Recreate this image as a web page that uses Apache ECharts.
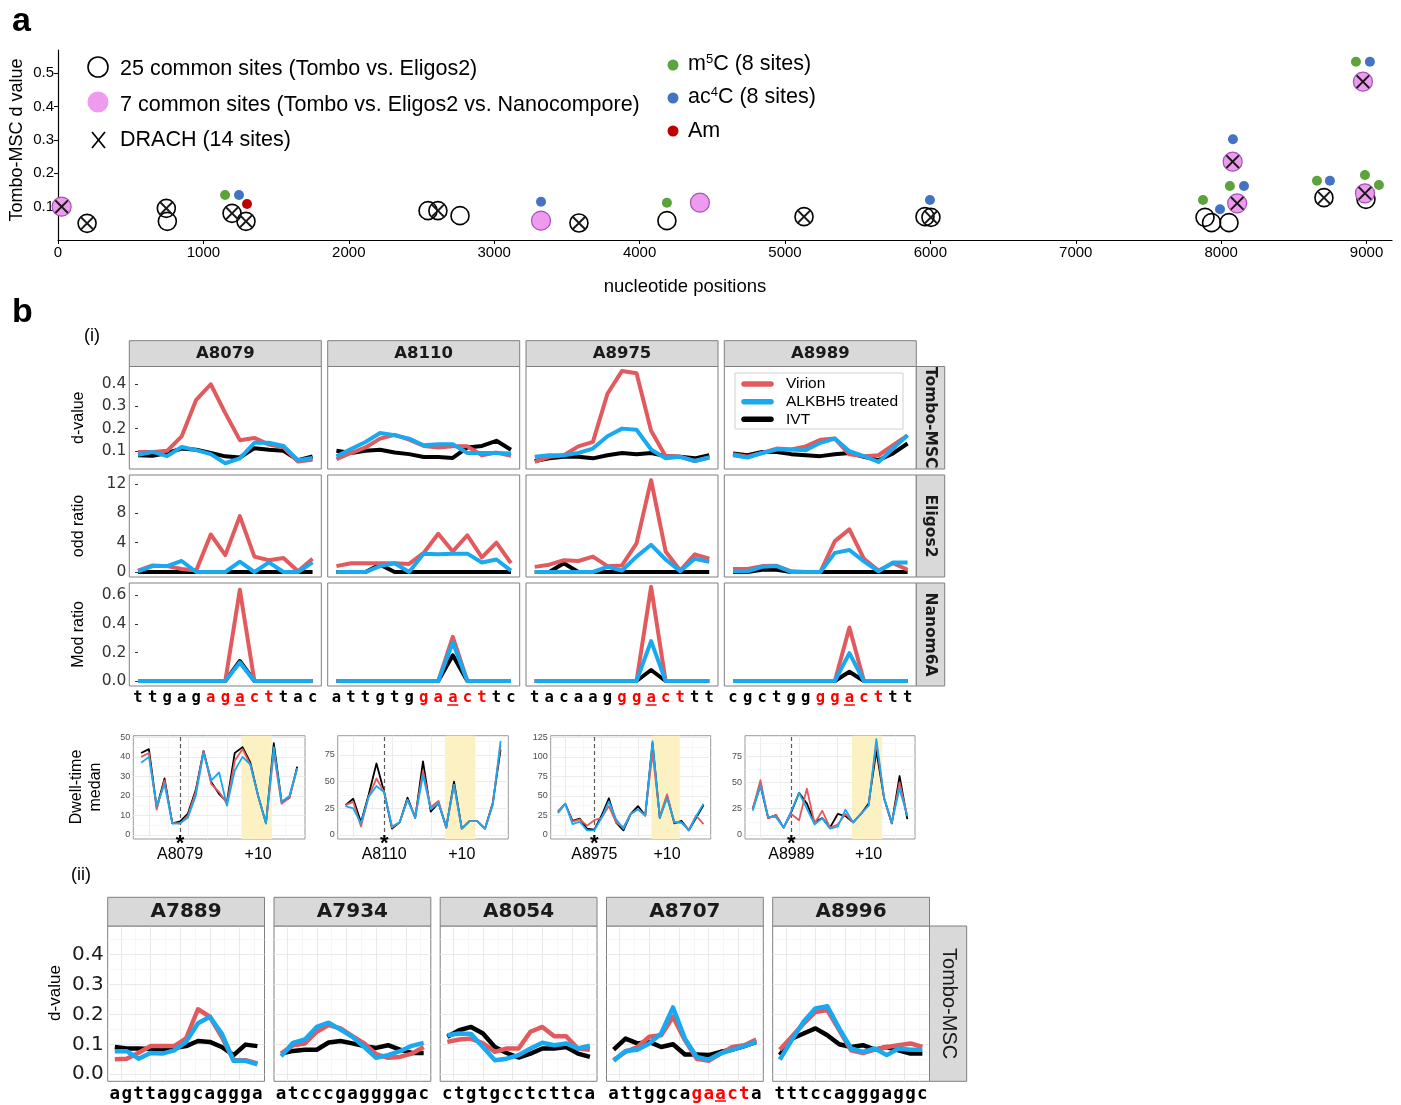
<!DOCTYPE html>
<html>
<head>
<meta charset="utf-8">
<script src="https://cdn.jsdelivr.net/npm/echarts@6.0.0/dist/echarts.min.js"></script>
<style>html,body{margin:0;padding:0;background:#fff;}#chart{width:1401px;height:1105px;}</style>
</head>
<body>
<div id="chart"></div>
<script>
// ================= DATA: panel a =================
const aXTicks = [0, 1000, 2000, 3000, 4000, 5000, 6000, 7000, 8000, 9000];
const aYTicks = [0.1, 0.2, 0.3, 0.4, 0.5];
const commonPos = [200, 745, 752, 1197, 1293, 2545, 2613, 2765, 3583, 4188, 5131, 5963, 6004, 7889, 7934, 8054, 8707, 8996];
const commonVal = [0.050, 0.095, 0.056, 0.080, 0.056, 0.088, 0.088, 0.073, 0.051, 0.058, 0.070, 0.070, 0.068, 0.068, 0.052, 0.052, 0.127, 0.122];
const pinkPos = [25, 3322, 4415, 8079, 8110, 8975, 8989];
const pinkVal = [0.100, 0.058, 0.112, 0.235, 0.110, 0.475, 0.140];
const drachPos = [25, 200, 745, 1197, 1293, 2613, 3583, 5131, 6004, 8079, 8110, 8707, 8975, 8989];
const drachVal = [0.100, 0.050, 0.095, 0.080, 0.056, 0.088, 0.051, 0.070, 0.068, 0.235, 0.110, 0.127, 0.475, 0.140];
const m5CPos = [1149, 4188, 7875, 8060, 8659, 8927, 8989, 9085];
const m5CVal = [0.135, 0.112, 0.120, 0.162, 0.178, 0.535, 0.195, 0.165];
const ac4CPos = [1245, 3322, 5997, 7992, 8081, 8157, 8748, 9023];
const ac4CVal = [0.135, 0.115, 0.120, 0.092, 0.302, 0.162, 0.178, 0.535];
const amPos = [1300];
const amVal = [0.108];

// ================= DATA: panel b(i) =================
const seqIdx = [0, 1, 2, 3, 4, 5, 6, 7, 8, 9, 10, 11, 12];
const b1Sites = ['A8079', 'A8110', 'A8975', 'A8989'];
const b1Seqs = ['ttgagagacttac', 'attgtggaacttc', 'tacaagggacttt', 'cgctggggacttt'];
const b1RedStart = [5, 6, 6, 6];
const b1RedEnd = [9, 10, 10, 10];
const b1ModIdx = [7, 8, 8, 8];
const b1RowNames = ['Tombo-MSC', 'Eligos2', 'Nanom6A'];
const b1RowTitles = ['d-value', 'odd ratio', 'Mod ratio'];
const b1TicksTombo = [0.1, 0.2, 0.3, 0.4];
const b1TicksEligos = [0, 4, 8, 12];
const b1TicksNano = [0.0, 0.2, 0.4, 0.6];

const tomboA8079Virion = [0.095, 0.095, 0.100, 0.165, 0.330, 0.400, 0.270, 0.148, 0.158, 0.128, 0.116, 0.052, 0.060];
const tomboA8079Alkbh5 = [0.082, 0.095, 0.076, 0.117, 0.103, 0.085, 0.044, 0.066, 0.136, 0.136, 0.122, 0.057, 0.068];
const tomboA8079Ivt    = [0.080, 0.078, 0.090, 0.110, 0.105, 0.090, 0.075, 0.070, 0.112, 0.105, 0.100, 0.058, 0.075];
const tomboA8110Virion = [0.062, 0.090, 0.115, 0.155, 0.172, 0.150, 0.122, 0.115, 0.120, 0.120, 0.080, 0.092, 0.078];
const tomboA8110Alkbh5 = [0.075, 0.108, 0.140, 0.180, 0.170, 0.155, 0.125, 0.130, 0.130, 0.090, 0.090, 0.090, 0.088];
const tomboA8110Ivt    = [0.100, 0.090, 0.100, 0.105, 0.092, 0.085, 0.072, 0.072, 0.068, 0.115, 0.122, 0.145, 0.105];
const tomboA8975Virion = [0.050, 0.073, 0.080, 0.120, 0.140, 0.357, 0.460, 0.450, 0.190, 0.076, 0.073, 0.054, 0.070];
const tomboA8975Alkbh5 = [0.073, 0.080, 0.080, 0.090, 0.110, 0.166, 0.200, 0.195, 0.106, 0.066, 0.073, 0.054, 0.070];
const tomboA8975Ivt    = [0.054, 0.066, 0.073, 0.073, 0.066, 0.080, 0.090, 0.085, 0.090, 0.076, 0.073, 0.066, 0.080];
const tomboA8989Virion = [0.085, 0.073, 0.090, 0.110, 0.106, 0.120, 0.150, 0.155, 0.084, 0.076, 0.080, 0.125, 0.170];
const tomboA8989Alkbh5 = [0.080, 0.070, 0.090, 0.106, 0.106, 0.103, 0.136, 0.155, 0.098, 0.076, 0.050, 0.110, 0.170];
const tomboA8989Ivt    = [0.088, 0.080, 0.095, 0.095, 0.085, 0.080, 0.076, 0.084, 0.090, 0.073, 0.058, 0.088, 0.133];

const eligosA8079Virion = [0.2, 0.9, 0.8, 0.4, 0.2, 5.1, 2.3, 7.6, 2.1, 1.6, 1.9, 0.1, 1.8];
const eligosA8079Alkbh5 = [0.1, 0.8, 0.8, 1.5, 0.0, 0.0, 0.0, 1.4, 0.0, 1.3, 0.0, 0.0, 1.3];
const eligosA8079Ivt    = [0.0, 0.0, 0.0, 0.0, 0.0, 0.0, 0.0, 0.0, 0.0, 0.0, 0.0, 0.0, 0.0];
const eligosA8110Virion = [0.8, 1.2, 1.2, 1.2, 1.2, 1.1, 2.6, 5.2, 2.8, 5.0, 2.0, 4.0, 1.2];
const eligosA8110Alkbh5 = [0.0, 0.0, 0.0, 0.8, 1.2, 0.0, 2.5, 2.4, 2.5, 2.5, 1.3, 1.7, 0.2];
const eligosA8110Ivt    = [0.0, 0.0, 0.0, 1.0, 0.0, 0.0, 0.0, 0.0, 0.0, 0.0, 0.0, 0.0, 0.0];
const eligosA8975Virion = [0.7, 1.0, 1.6, 1.5, 2.1, 0.8, 0.9, 3.9, 12.5, 2.8, 0.2, 2.4, 1.8];
const eligosA8975Alkbh5 = [0.0, 0.0, 0.0, 0.0, 0.0, 0.7, 0.2, 2.1, 3.7, 1.7, 0.1, 1.8, 1.4];
const eligosA8975Ivt    = [0.0, 0.0, 1.2, 0.0, 0.0, 0.0, 0.0, 0.0, 0.0, 0.0, 0.0, 0.0, 0.0];
const eligosA8989Virion = [0.4, 0.4, 0.8, 0.85, 0.1, 0.0, 0.0, 4.2, 5.8, 1.8, 0.2, 1.2, 0.3];
const eligosA8989Alkbh5 = [0.1, 0.1, 0.7, 0.8, 0.0, 0.0, 0.0, 2.6, 3.0, 1.45, 0.1, 1.3, 1.3];
const eligosA8989Ivt    = [0.0, 0.0, 0.3, 0.3, 0.0, 0.0, 0.0, 0.0, 0.0, 0.0, 0.0, 0.0, 0.0];

const nanoA8079Virion = [0, 0, 0, 0, 0, 0, 0, 0.64, 0, 0, 0, 0, 0];
const nanoA8079Alkbh5 = [0, 0, 0, 0, 0, 0, 0, 0.13, 0, 0, 0, 0, 0];
const nanoA8079Ivt    = [0, 0, 0, 0, 0, 0, 0, 0.14, 0, 0, 0, 0, 0];
const nanoA8110Virion = [0, 0, 0, 0, 0, 0, 0, 0, 0.31, 0, 0, 0, 0];
const nanoA8110Alkbh5 = [0, 0, 0, 0, 0, 0, 0, 0, 0.27, 0, 0, 0, 0];
const nanoA8110Ivt    = [0, 0, 0, 0, 0, 0, 0, 0, 0.18, 0, 0, 0, 0];
const nanoA8975Virion = [0, 0, 0, 0, 0, 0, 0, 0, 0.66, 0, 0, 0, 0];
const nanoA8975Alkbh5 = [0, 0, 0, 0, 0, 0, 0, 0, 0.28, 0, 0, 0, 0];
const nanoA8975Ivt    = [0, 0, 0, 0, 0, 0, 0, 0, 0.077, 0, 0, 0, 0];
const nanoA8989Virion = [0, 0, 0, 0, 0, 0, 0, 0, 0.375, 0, 0, 0, 0];
const nanoA8989Alkbh5 = [0, 0, 0, 0, 0, 0, 0, 0, 0.195, 0, 0, 0, 0];
const nanoA8989Ivt    = [0, 0, 0, 0, 0, 0, 0, 0, 0.065, 0, 0, 0, 0];

// ================= DATA: dwell-time =================
const dwIdx = [0, 1, 2, 3, 4, 5, 6, 7, 8, 9, 10, 11, 12, 13, 14, 15, 16, 17, 18, 19, 20];
const dwTicks8079 = [0, 10, 20, 30, 40, 50];
const dwTicks8110 = [0, 25, 50, 75];
const dwTicks8975 = [0, 25, 50, 75, 100, 125];
const dwTicks8989 = [0, 25, 50, 75];
const dwA8079Ivt    = [42, 44, 14, 29, 6, 7, 11, 23, 43, 27, 21, 17, 42, 45, 37, 20, 6, 47, 17, 19, 35];
const dwA8079Virion = [40, 42, 13, 28, 6, 6, 10, 22, 43, 26, 22, 16, 38, 44, 36, 20, 6, 42, 16, 19, 34];
const dwA8079Alkbh5 = [37, 40, 15, 26, 6, 6, 9, 20, 42, 28, 32, 15, 33, 40, 36, 20, 6, 45, 17, 20, 34];
const dwA8110Ivt    = [28, 34, 12, 38, 67, 40, 6, 12, 35, 16, 69, 22, 30, 7, 50, 6, 13, 13, 6, 30, 80];
const dwA8110Virion = [28, 31, 8, 36, 53, 40, 7, 12, 33, 18, 60, 26, 32, 7, 47, 6, 13, 13, 6, 30, 84];
const dwA8110Alkbh5 = [27, 25, 11, 36, 46, 40, 8, 12, 33, 16, 56, 24, 30, 8, 47, 6, 13, 13, 6, 28, 88];
const dwA8975Ivt    = [30, 40, 18, 21, 8, 7, 25, 47, 16, 6, 27, 37, 25, 118, 22, 50, 15, 18, 6, 22, 38];
const dwA8975Virion = [30, 40, 17, 20, 12, 19, 22, 37, 16, 10, 27, 33, 25, 105, 24, 52, 16, 16, 7, 25, 14];
const dwA8975Alkbh5 = [28, 40, 14, 17, 6, 6, 22, 43, 20, 8, 27, 33, 25, 120, 22, 47, 17, 16, 6, 24, 40];
const dwA8989Ivt    = [25, 47, 16, 19, 7, 22, 40, 30, 12, 16, 7, 20, 18, 12, 20, 30, 80, 35, 11, 56, 15];
const dwA8989Virion = [25, 52, 16, 19, 7, 20, 14, 44, 11, 23, 7, 10, 20, 12, 20, 28, 88, 35, 11, 50, 18];
const dwA8989Alkbh5 = [23, 47, 17, 17, 7, 23, 40, 25, 10, 16, 6, 8, 24, 12, 20, 28, 91, 35, 12, 44, 18];
const dwSiteIdx = 5;
const dwPlusIdx = 15;
const dwHighlight = [12.85, 16.75];

// ================= DATA: panel b(ii) =================
const b2Sites = ['A7889', 'A7934', 'A8054', 'A8707', 'A8996'];
const b2Seqs = ['agttaggcaggga', 'atcccgaggggac', 'ctgtgcctcttca', 'attggcagaacta', 'tttccagggaggc'];
const b2RedStart = [-1, -1, -1, 7, -1];
const b2RedEnd = [-1, -1, -1, 11, -1];
const b2ModIdx = [-1, -1, -1, 9, -1];
const b2Ticks = [0.0, 0.1, 0.2, 0.3, 0.4];
const b2A7889Virion = [0.050, 0.052, 0.072, 0.094, 0.094, 0.094, 0.120, 0.217, 0.192, 0.125, 0.047, 0.047, 0.036];
const b2A7889Alkbh5 = [0.077, 0.077, 0.052, 0.071, 0.069, 0.080, 0.108, 0.170, 0.192, 0.136, 0.045, 0.045, 0.033];
const b2A7889Ivt    = [0.091, 0.086, 0.086, 0.084, 0.084, 0.088, 0.094, 0.111, 0.108, 0.091, 0.064, 0.099, 0.094];
const b2A7934Virion = [0.069, 0.097, 0.103, 0.142, 0.164, 0.153, 0.127, 0.103, 0.067, 0.055, 0.058, 0.069, 0.091];
const b2A7934Alkbh5 = [0.060, 0.105, 0.116, 0.158, 0.172, 0.149, 0.125, 0.091, 0.055, 0.064, 0.077, 0.095, 0.105];
const b2A7934Ivt    = [0.069, 0.078, 0.082, 0.082, 0.106, 0.111, 0.103, 0.094, 0.088, 0.097, 0.082, 0.071, 0.071];
const b2A8054Virion = [0.108, 0.116, 0.119, 0.103, 0.075, 0.086, 0.086, 0.142, 0.158, 0.127, 0.127, 0.086, 0.082];
const b2A8054Alkbh5 = [0.130, 0.136, 0.134, 0.091, 0.047, 0.052, 0.064, 0.086, 0.105, 0.097, 0.103, 0.086, 0.095];
const b2A8054Ivt    = [0.125, 0.147, 0.158, 0.136, 0.091, 0.071, 0.056, 0.069, 0.086, 0.086, 0.091, 0.069, 0.058];
const b2A8707Virion = [0.047, 0.075, 0.091, 0.125, 0.130, 0.192, 0.114, 0.052, 0.045, 0.069, 0.091, 0.097, 0.116];
const b2A8707Alkbh5 = [0.045, 0.078, 0.082, 0.103, 0.136, 0.223, 0.119, 0.058, 0.049, 0.069, 0.082, 0.094, 0.108];
const b2A8707Ivt    = [0.082, 0.119, 0.103, 0.108, 0.091, 0.100, 0.066, 0.066, 0.064, 0.075, 0.082, 0.094, 0.108];
const b2A8996Virion = [0.082, 0.125, 0.169, 0.208, 0.214, 0.147, 0.080, 0.071, 0.082, 0.091, 0.097, 0.103, 0.091];
const b2A8996Alkbh5 = [0.049, 0.114, 0.175, 0.220, 0.227, 0.153, 0.086, 0.075, 0.086, 0.064, 0.086, 0.082, 0.082];
const b2A8996Ivt    = [0.064, 0.119, 0.136, 0.153, 0.130, 0.100, 0.091, 0.097, 0.082, 0.091, 0.080, 0.069, 0.069];
const b2GridXMajor = [0.5, 3, 5.5, 8, 10.5];
const b2GridXMinor = [1.75, 4.25, 6.75, 9.25, 11.75];
const b2GridYMajor = [0, 0.1, 0.2, 0.3, 0.4];
const b2GridYMinor = [0.05, 0.15, 0.25, 0.35, 0.45];
const dwGridXMajor = [1, 6, 11, 16];
const dwGridXMinor = [3.5, 8.5, 13.5, 18.5];

const condNames = ['Virion', 'ALKBH5 treated', 'IVT'];

// ================= STYLE =================
const FA = "'Liberation Sans', Arial, Helvetica, sans-serif";
const FD = "'DejaVu Sans', Verdana, sans-serif";
const FM = "'DejaVu Sans Mono', 'Liberation Mono', monospace";
const RED = '#E25A5D', BLUE = '#18A9F1', BLACK = '#000000';
const SEQRED = '#FF0000';

const grids = [], xAxes = [], yAxes = [], series = [], gfx = [], underlines = [];
function hiddenAxis() {
  return {axisLine: {show: false}, axisTick: {show: false}, axisLabel: {show: false}, splitLine: {show: false}, splitArea: {show: false}};
}
function addCart(g, x, y) {
  const gi = grids.length;
  grids.push(Object.assign({show: true, borderColor: '#808080', borderWidth: 1, backgroundColor: '#ffffff', containLabel: false}, g));
  xAxes.push(Object.assign(hiddenAxis(), {gridIndex: gi, type: 'value'}, x));
  yAxes.push(Object.assign(hiddenAxis(), {gridIndex: gi, type: 'value'}, y));
  return gi;
}
function pairs(xs, ys) { return xs.map((x, i) => [x, ys[i]]); }
function lineS(gi, xs, ys, color, width, z, name) {
  return {type: 'line', name: name, xAxisIndex: gi, yAxisIndex: gi, data: pairs(xs, ys), symbol: 'none',
    lineStyle: {color: color, width: width, join: 'round'}, itemStyle: {color: color}, z: z, silent: true, clip: true};
}
function gridLineS(gi, xv, yv, color, width, z) {
  const d = [];
  xv.forEach(v => d.push({xAxis: v}));
  yv.forEach(v => d.push({yAxis: v}));
  return {type: 'line', xAxisIndex: gi, yAxisIndex: gi, data: [], z: z, silent: true,
    markLine: {z: z, silent: true, symbol: ['none', 'none'], label: {show: false}, lineStyle: {color: color, width: width, type: 'solid'}, data: d, animation: false}};
}
function txt(x, y, text, size, o) {
  o = o || {};
  const al = o.align || 'center', va = o.va || 'middle';
  const st = {text: text, fontSize: size, fontFamily: o.ff || FA, fontWeight: o.fw || 'normal', fill: o.color || '#000',
    textAlign: al, textVerticalAlign: va, align: al, verticalAlign: va};
  if (o.rich) st.rich = o.rich;
  if (o.lh) st.lineHeight = o.lh;
  return {type: 'text', x: x, y: y, rotation: o.rot || 0, z: 50, silent: true, style: st};
}
function rect(x, y, w, h, fill, stroke) {
  return {type: 'rect', z: 49, silent: true, shape: {x: x, y: y, width: w, height: h}, style: {fill: fill, stroke: stroke || null, lineWidth: 1}};
}
function seqLabel(seq, rs, re, size) {
  return {
    show: true, customValues: seqIdx, margin: 4,
    formatter: function (v) {
      const i = Math.round(v);
      const ch = seq.charAt(i);
      return (i >= rs && i <= re) ? '{r|' + ch + '}' : '{k|' + ch + '}';
    },
    rich: {
      k: {color: '#000', fontFamily: FM, fontWeight: 'bold', fontSize: size},
      r: {color: SEQRED, fontFamily: FM, fontWeight: 'bold', fontSize: size}
    }
  };
}

// ================= PANEL a =================
const gA = addCart({left: 58, top: 50, width: 1334, height: 190, show: false},
  {min: 0, max: 9175,
   axisLine: {show: true, onZero: false, lineStyle: {color: '#000', width: 1.2}},
   axisTick: {show: true, length: 4, customValues: aXTicks, lineStyle: {color: '#000'}},
   axisLabel: {show: true, customValues: aXTicks, fontSize: 15, fontFamily: FA, color: '#000', margin: 5, formatter: v => String(Math.round(v))}},
  {min: 0, max: 0.57,
   axisLine: {show: true, onZero: false, lineStyle: {color: '#000', width: 1.2}},
   axisTick: {show: true, length: 4, customValues: aYTicks, lineStyle: {color: '#000'}},
   axisLabel: {show: true, customValues: aYTicks, fontSize: 15, fontFamily: FA, color: '#000', margin: 4, formatter: v => v.toFixed(1)}});
const X_PATH = 'path://M0,2 L2,0 L10,8 L18,0 L20,2 L12,10 L20,18 L18,20 L10,12 L2,20 L0,18 L8,10 Z';
series.push({type: 'scatter', xAxisIndex: gA, yAxisIndex: gA, data: pairs(commonPos, commonVal), symbol: 'circle', symbolSize: 18,
  itemStyle: {color: 'rgba(255,255,255,0)', borderColor: '#000', borderWidth: 1.6, opacity: 1}, z: 3, silent: true});
series.push({type: 'scatter', xAxisIndex: gA, yAxisIndex: gA, data: pairs(pinkPos, pinkVal), symbol: 'circle', symbolSize: 19,
  itemStyle: {color: '#EE9BEF', borderColor: '#A453B4', borderWidth: 1.2, opacity: 1}, z: 3, silent: true});
series.push({type: 'scatter', xAxisIndex: gA, yAxisIndex: gA, data: pairs(drachPos, drachVal), symbol: X_PATH, symbolSize: 14,
  itemStyle: {color: '#1a1a1a', opacity: 1}, z: 4, silent: true});
series.push({type: 'scatter', xAxisIndex: gA, yAxisIndex: gA, data: pairs(m5CPos, m5CVal), symbol: 'circle', symbolSize: 10,
  itemStyle: {color: '#5BA33B', opacity: 1}, z: 5, silent: true});
series.push({type: 'scatter', xAxisIndex: gA, yAxisIndex: gA, data: pairs(ac4CPos, ac4CVal), symbol: 'circle', symbolSize: 10,
  itemStyle: {color: '#4472C4', opacity: 1}, z: 5, silent: true});
series.push({type: 'scatter', xAxisIndex: gA, yAxisIndex: gA, data: pairs(amPos, amVal), symbol: 'circle', symbolSize: 10,
  itemStyle: {color: '#C00000', opacity: 1}, z: 5, silent: true});

gfx.push(txt(12, 22, 'a', 34, {fw: 'bold', align: 'left'}));
gfx.push(txt(17, 140, 'Tombo-MSC d value', 18, {rot: Math.PI / 2}));
gfx.push(txt(685, 287, 'nucleotide positions', 18.5));
gfx.push({type: 'circle', z: 50, silent: true, shape: {cx: 98, cy: 67, r: 10}, style: {fill: null, stroke: '#000', lineWidth: 1.6}});
gfx.push(txt(120, 69, '25 common sites (Tombo vs. Eligos2)', 21.5, {align: 'left'}));
gfx.push({type: 'circle', z: 50, silent: true, shape: {cx: 98, cy: 102, r: 10.5}, style: {fill: '#EE9BEF', stroke: null}});
gfx.push(txt(120, 105, '7 common sites (Tombo vs. Eligos2 vs. Nanocompore)', 21.5, {align: 'left'}));
gfx.push({type: 'line', z: 50, silent: true, shape: {x1: 92, y1: 132, x2: 105, y2: 148}, style: {stroke: '#000', lineWidth: 1.7}});
gfx.push({type: 'line', z: 50, silent: true, shape: {x1: 105, y1: 132, x2: 92, y2: 148}, style: {stroke: '#000', lineWidth: 1.7}});
gfx.push(txt(120, 140, 'DRACH (14 sites)', 21.5, {align: 'left'}));
const supRich = {
  n: {fontSize: 21.5, fontFamily: FA, fill: '#000', color: '#000'},
  s: {fontSize: 13, fontFamily: FA, fill: '#000', color: '#000', verticalAlign: 'top'}
};
gfx.push({type: 'circle', z: 50, silent: true, shape: {cx: 673, cy: 65, r: 5.5}, style: {fill: '#5BA33B'}});
gfx.push(txt(688, 64, '{n|m}{s|5}{n|C (8 sites)}', 21.5, {align: 'left', rich: supRich}));
gfx.push({type: 'circle', z: 50, silent: true, shape: {cx: 673, cy: 98, r: 5.5}, style: {fill: '#4472C4'}});
gfx.push(txt(688, 97, '{n|ac}{s|4}{n|C (8 sites)}', 21.5, {align: 'left', rich: supRich}));
gfx.push({type: 'circle', z: 50, silent: true, shape: {cx: 673, cy: 131, r: 5.5}, style: {fill: '#C00000'}});
gfx.push(txt(688, 131, 'Am', 21.5, {align: 'left'}));

// ================= PANEL b(i) =================
gfx.push(txt(12, 313, 'b', 34, {fw: 'bold', align: 'left'}));
gfx.push(txt(92, 336, '(i)', 18));
const b1ColL = [129.3, 327.7, 526.0, 724.3], b1W = 192;
const b1RowT = [366.5, 475, 583], b1RowH = [102.5, 102, 103];
const b1YMin = [0.018, -0.68, -0.035], b1YMax = [0.48, 13.2, 0.687];
const b1Ticks = [b1TicksTombo, b1TicksEligos, b1TicksNano];
const b1Fmt = [v => v.toFixed(1), v => String(Math.round(v)), v => v.toFixed(1)];
const b1Data = [
  [[tomboA8079Virion, tomboA8079Alkbh5, tomboA8079Ivt], [tomboA8110Virion, tomboA8110Alkbh5, tomboA8110Ivt],
   [tomboA8975Virion, tomboA8975Alkbh5, tomboA8975Ivt], [tomboA8989Virion, tomboA8989Alkbh5, tomboA8989Ivt]],
  [[eligosA8079Virion, eligosA8079Alkbh5, eligosA8079Ivt], [eligosA8110Virion, eligosA8110Alkbh5, eligosA8110Ivt],
   [eligosA8975Virion, eligosA8975Alkbh5, eligosA8975Ivt], [eligosA8989Virion, eligosA8989Alkbh5, eligosA8989Ivt]],
  [[nanoA8079Virion, nanoA8079Alkbh5, nanoA8079Ivt], [nanoA8110Virion, nanoA8110Alkbh5, nanoA8110Ivt],
   [nanoA8975Virion, nanoA8975Alkbh5, nanoA8975Ivt], [nanoA8989Virion, nanoA8989Alkbh5, nanoA8989Ivt]]
];
for (let r = 0; r < 3; r++) {
  for (let c = 0; c < 4; c++) {
    const yCfg = {min: b1YMin[r], max: b1YMax[r]};
    if (c === 0) {
      yCfg.axisTick = {show: true, length: 3, customValues: b1Ticks[r], lineStyle: {color: '#333'}};
      yCfg.axisLabel = {show: true, customValues: b1Ticks[r], formatter: b1Fmt[r], fontSize: 15.5, fontFamily: FD, color: '#333', margin: 3};
    }
    const xCfg = {min: -0.6, max: 12.6};
    if (r === 2) xCfg.axisLabel = seqLabel(b1Seqs[c], b1RedStart[c], b1RedEnd[c], 15.5);
    const gi = addCart({left: b1ColL[c], top: b1RowT[r], width: b1W, height: b1RowH[r]}, xCfg, yCfg);
    const d = b1Data[r][c];
    series.push(lineS(gi, seqIdx, d[2], BLACK, 4, 3, condNames[2]));
    series.push(lineS(gi, seqIdx, d[0], RED, 4, 4, condNames[0]));
    series.push(lineS(gi, seqIdx, d[1], BLUE, 4, 5, condNames[1]));
    if (r === 2) underlines.push({gi: gi, idx: b1ModIdx[c], y: 705});
  }
}
for (let c = 0; c < 4; c++) {
  gfx.push(rect(b1ColL[c], 340.7, b1W, 25.8, '#D9D9D9', '#808080'));
  gfx.push(txt(b1ColL[c] + b1W / 2, 354, b1Sites[c], 16.5, {ff: FD, fw: 'bold', color: '#1a1a1a'}));
}
for (let r = 0; r < 3; r++) {
  gfx.push(rect(916.3, b1RowT[r], 28.4, b1RowH[r], '#D9D9D9', '#808080'));
  gfx.push(txt(930.5, b1RowT[r] + b1RowH[r] / 2, b1RowNames[r], 15.5, {ff: FD, fw: 'bold', color: '#1a1a1a', rot: -Math.PI / 2}));
  gfx.push(txt(79, b1RowT[r] + b1RowH[r] / 2, b1RowTitles[r], 16, {rot: Math.PI / 2}));
}
// legend
gfx.push(rect(735, 373, 168, 56, '#ffffff', '#d0d0d0'));
const legColors = [RED, BLUE, BLACK], legY = [384, 401.7, 419.3];
for (let k = 0; k < 3; k++) {
  gfx.push({type: 'line', z: 51, silent: true, shape: {x1: 744, y1: legY[k], x2: 771, y2: legY[k]},
    style: {stroke: legColors[k], lineWidth: 5.5, lineCap: 'round'}});
  gfx.push(txt(786, legY[k], condNames[k], 15.5, {align: 'left'}));
}

// ================= DWELL TIME =================
const dwSites = b1Sites;
const dwL = [133.3, 337.7, 550.7, 745], dwW = [171.7, 170.6, 160, 170];
const dwTop = 735.7, dwH = 103.3;
const dwYMin = [-2.05, -3.75, -5.1, -3.8], dwYMax = [50.85, 93.1, 127.1, 94.3];
const dwTicks = [dwTicks8079, dwTicks8110, dwTicks8975, dwTicks8989];
const dwData = [
  [dwA8079Virion, dwA8079Alkbh5, dwA8079Ivt], [dwA8110Virion, dwA8110Alkbh5, dwA8110Ivt],
  [dwA8975Virion, dwA8975Alkbh5, dwA8975Ivt], [dwA8989Virion, dwA8989Alkbh5, dwA8989Ivt]
];
for (let p = 0; p < 4; p++) {
  const tk = dwTicks[p];
  const minor = [];
  for (let i = 0; i < tk.length; i++) {
    const half = tk[i] + (tk[1] - tk[0]) / 2;
    if (half < dwYMax[p]) minor.push(half);
  }
  const site = dwSites[p];
  const gi = addCart({left: dwL[p], top: dwTop, width: dwW[p], height: dwH, borderColor: '#9a9a9a'},
    {min: -1, max: 21,
     axisLabel: {show: true, customValues: [dwSiteIdx, dwPlusIdx], margin: 8, fontSize: 16, fontFamily: FA, color: '#000',
       formatter: v => (Math.round(v) === dwSiteIdx ? site : '+10')}},
    {min: dwYMin[p], max: dwYMax[p],
     axisTick: {show: true, length: 2.5, customValues: tk, lineStyle: {color: '#444'}},
     axisLabel: {show: true, customValues: tk, fontSize: 9, fontFamily: FA, color: '#4d4d4d', margin: 3}});
  series.push(gridLineS(gi, dwGridXMinor, minor, '#F4F4F4', 0.7, 0.5));
  series.push(gridLineS(gi, dwGridXMajor, tk, '#EBEBEB', 1, 0.6));
  series.push({type: 'line', xAxisIndex: gi, yAxisIndex: gi, data: [], z: 1, silent: true,
    markArea: {z: 1, silent: true, itemStyle: {color: '#FBF1C3'}, data: [[{xAxis: dwHighlight[0]}, {xAxis: dwHighlight[1]}]], animation: false}});
  series.push({type: 'line', xAxisIndex: gi, yAxisIndex: gi, data: [], z: 2, silent: true,
    markLine: {z: 2, silent: true, symbol: ['none', 'none'], label: {show: false}, lineStyle: {color: '#5a5a5a', width: 1.2, type: [4, 3]}, data: [{xAxis: dwSiteIdx}], animation: false}});
  const d = dwData[p];
  series.push(lineS(gi, dwIdx, d[2], BLACK, 1.8, 3, condNames[2]));
  series.push(lineS(gi, dwIdx, d[0], RED, 1.8, 4, condNames[0]));
  series.push(lineS(gi, dwIdx, d[1], BLUE, 1.8, 5, condNames[1]));
  series.push({type: 'line', xAxisIndex: gi, yAxisIndex: gi, data: [], z: 8, silent: true,
    markPoint: {z: 8, silent: true, symbol: 'circle', symbolSize: 1, itemStyle: {color: 'rgba(0,0,0,0)'},
      label: {show: true, position: 'inside', formatter: '*', fontSize: 22, fontWeight: 'bold', fontFamily: FA, color: '#000', offset: [0, 5]},
      data: [{coord: [dwSiteIdx, dwYMin[p]]}], animation: false}});
}
gfx.push(txt(86, 787, 'Dwell-time\nmedan', 16, {rot: Math.PI / 2, lh: 19}));

// ================= PANEL b(ii) =================
gfx.push(txt(81, 875, '(ii)', 18));
const b2L = [107.7, 274.0, 440.2, 606.5, 772.7], b2W = 156.8, b2Top = 926, b2H = 155.3;
const b2Data = [
  [b2A7889Virion, b2A7889Alkbh5, b2A7889Ivt], [b2A7934Virion, b2A7934Alkbh5, b2A7934Ivt],
  [b2A8054Virion, b2A8054Alkbh5, b2A8054Ivt], [b2A8707Virion, b2A8707Alkbh5, b2A8707Ivt],
  [b2A8996Virion, b2A8996Alkbh5, b2A8996Ivt]
];
for (let c = 0; c < 5; c++) {
  const yCfg = {min: -0.0234, max: 0.4947};
  if (c === 0) {
    yCfg.axisTick = {show: true, length: 3, customValues: b2Ticks, lineStyle: {color: '#333'}};
    yCfg.axisLabel = {show: true, customValues: b2Ticks, formatter: v => v.toFixed(1), fontSize: 20, fontFamily: FD, color: '#1a1a1a', margin: 4};
  }
  const xCfg = {min: -0.6, max: 12.6, axisLabel: seqLabel(b2Seqs[c], b2RedStart[c], b2RedEnd[c], 17.5)};
  const gi = addCart({left: b2L[c], top: b2Top, width: b2W, height: b2H}, xCfg, yCfg);
  series.push(gridLineS(gi, b2GridXMinor, b2GridYMinor, '#F3F3F3', 0.7, 0.5));
  series.push(gridLineS(gi, b2GridXMajor, b2GridYMajor, '#E9E9E9', 1.1, 0.6));
  const d = b2Data[c];
  series.push(lineS(gi, seqIdx, d[2], BLACK, 4.5, 3, condNames[2]));
  series.push(lineS(gi, seqIdx, d[0], RED, 4.5, 4, condNames[0]));
  series.push(lineS(gi, seqIdx, d[1], BLUE, 4.5, 5, condNames[1]));
  if (b2ModIdx[c] >= 0) underlines.push({gi: gi, idx: b2ModIdx[c], y: 1101});
  gfx.push(rect(b2L[c], 897.3, b2W, 28.7, '#D9D9D9', '#808080'));
  gfx.push(txt(b2L[c] + b2W / 2, 912, b2Sites[c], 20, {ff: FD, fw: 'bold', color: '#1a1a1a'}));
}
gfx.push(rect(929.5, b2Top, 37.2, b2H, '#D9D9D9', '#808080'));
gfx.push(txt(948.1, b2Top + b2H / 2, 'Tombo-MSC', 20, {rot: -Math.PI / 2, color: '#1a1a1a'}));
gfx.push(txt(55, 993, 'd-value', 17, {rot: Math.PI / 2}));

// ================= RENDER =================
const chart = echarts.init(document.getElementById('chart'), null, {width: 1401, height: 1105, renderer: 'canvas'});
gfx.forEach((e, i) => { e.id = 'g' + i; });
chart.setOption({animation: false, grid: grids, xAxis: xAxes, yAxis: yAxes, series: series, graphic: {elements: gfx}});
const extra = [];
underlines.forEach((u, k) => {
  const px = chart.convertToPixel({xAxisIndex: u.gi}, u.idx);
  extra.push({type: 'line', id: 'ul' + k, z: 60, silent: true, shape: {x1: px - 5.5, y1: u.y, x2: px + 5.5, y2: u.y},
    style: {stroke: SEQRED, lineWidth: 1.5}});
});
chart.setOption({graphic: {elements: gfx.concat(extra)}});
</script>
</body>
</html>
